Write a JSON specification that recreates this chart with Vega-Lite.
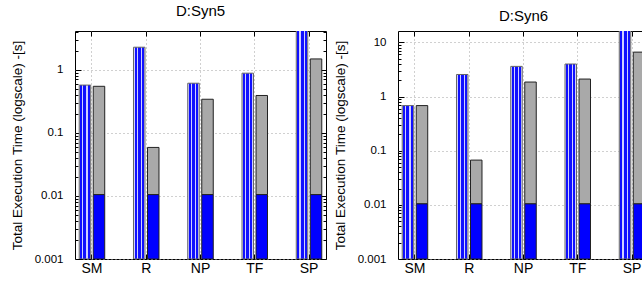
{
  "$schema": "https://vega.github.io/schema/vega-lite/v6.json",
  "padding": {"left": 9, "top": 3, "right": 0, "bottom": 0},
  "datasets": {
    "bars": [
      {"panel": "Syn5", "cat": "SM", "kind": "A", "seg": "hatch", "lo": 0.001, "hi": 0.57},
      {"panel": "Syn5", "cat": "SM", "kind": "B", "seg": "blue", "lo": 0.001, "hi": 0.0105},
      {"panel": "Syn5", "cat": "SM", "kind": "B", "seg": "gray", "lo": 0.0105, "hi": 0.545},
      {"panel": "Syn5", "cat": "R", "kind": "A", "seg": "hatch", "lo": 0.001, "hi": 2.27},
      {"panel": "Syn5", "cat": "R", "kind": "B", "seg": "blue", "lo": 0.001, "hi": 0.0105},
      {"panel": "Syn5", "cat": "R", "kind": "B", "seg": "gray", "lo": 0.0105, "hi": 0.0586},
      {"panel": "Syn5", "cat": "NP", "kind": "A", "seg": "hatch", "lo": 0.001, "hi": 0.61},
      {"panel": "Syn5", "cat": "NP", "kind": "B", "seg": "blue", "lo": 0.001, "hi": 0.0105},
      {"panel": "Syn5", "cat": "NP", "kind": "B", "seg": "gray", "lo": 0.0105, "hi": 0.34},
      {"panel": "Syn5", "cat": "TF", "kind": "A", "seg": "hatch", "lo": 0.001, "hi": 0.88},
      {"panel": "Syn5", "cat": "TF", "kind": "B", "seg": "blue", "lo": 0.001, "hi": 0.0105},
      {"panel": "Syn5", "cat": "TF", "kind": "B", "seg": "gray", "lo": 0.0105, "hi": 0.39},
      {"panel": "Syn5", "cat": "SP", "kind": "A", "seg": "hatch", "lo": 0.001, "hi": 5.5},
      {"panel": "Syn5", "cat": "SP", "kind": "B", "seg": "blue", "lo": 0.001, "hi": 0.0105},
      {"panel": "Syn5", "cat": "SP", "kind": "B", "seg": "gray", "lo": 0.0105, "hi": 1.48},
      {"panel": "Syn6", "cat": "SM", "kind": "A", "seg": "hatch", "lo": 0.001, "hi": 0.68},
      {"panel": "Syn6", "cat": "SM", "kind": "B", "seg": "blue", "lo": 0.001, "hi": 0.0105},
      {"panel": "Syn6", "cat": "SM", "kind": "B", "seg": "gray", "lo": 0.0105, "hi": 0.68},
      {"panel": "Syn6", "cat": "R", "kind": "A", "seg": "hatch", "lo": 0.001, "hi": 2.55},
      {"panel": "Syn6", "cat": "R", "kind": "B", "seg": "blue", "lo": 0.001, "hi": 0.0105},
      {"panel": "Syn6", "cat": "R", "kind": "B", "seg": "gray", "lo": 0.0105, "hi": 0.067},
      {"panel": "Syn6", "cat": "NP", "kind": "A", "seg": "hatch", "lo": 0.001, "hi": 3.6},
      {"panel": "Syn6", "cat": "NP", "kind": "B", "seg": "blue", "lo": 0.001, "hi": 0.0105},
      {"panel": "Syn6", "cat": "NP", "kind": "B", "seg": "gray", "lo": 0.0105, "hi": 1.85},
      {"panel": "Syn6", "cat": "TF", "kind": "A", "seg": "hatch", "lo": 0.001, "hi": 3.98},
      {"panel": "Syn6", "cat": "TF", "kind": "B", "seg": "blue", "lo": 0.001, "hi": 0.0105},
      {"panel": "Syn6", "cat": "TF", "kind": "B", "seg": "gray", "lo": 0.0105, "hi": 2.1},
      {"panel": "Syn6", "cat": "SP", "kind": "A", "seg": "hatch", "lo": 0.001, "hi": 22},
      {"panel": "Syn6", "cat": "SP", "kind": "B", "seg": "blue", "lo": 0.001, "hi": 0.0105},
      {"panel": "Syn6", "cat": "SP", "kind": "B", "seg": "gray", "lo": 0.0105, "hi": 6.6}
    ]
  },
  "config": {
    "font": "Liberation Sans",
    "view": {"stroke": "#000", "strokeWidth": 1},
    "title": {"font": "Liberation Sans", "fontSize": 15, "fontWeight": "normal", "color": "#000", "offset": 7},
    "axis": {
      "labelFont": "Liberation Sans", "labelFontSize": 11.5, "labelColor": "#000",
      "titleFont": "Liberation Sans", "titleFontSize": 13.5, "titleFontWeight": "normal", "titleColor": "#000",
      "domain": false, "tickColor": "#000", "tickWidth": 1, "gridColor": "#a0a0a0", "gridDash": [1, 3], "gridWidth": 1
    },
    "concat": {"spacing": 5}
  },
  "hconcat": [
    {
      "title": "D:Syn5",
      "width": 251, "height": 228,
      "data": {"name": "bars"},
      "transform": [{"filter": "datum.panel == 'Syn5'"}],
      "layer": [
        {
          "transform": [{"filter": "datum.kind == 'A'"}],
          "mark": {"type": "bar", "clip": true, "stroke": "#666", "strokeWidth": 1,
            "fill": {"gradient": "linear", "x1": 0, "x2": 1, "y1": 0, "y2": 0, "stops": [
              {"offset": 0, "color": "#d0d0ff"}, {"offset": 0.1, "color": "#d0d0ff"},
              {"offset": 0.1, "color": "#1010ff"}, {"offset": 0.27, "color": "#1010ff"},
              {"offset": 0.27, "color": "#d0d0ff"}, {"offset": 0.37, "color": "#d0d0ff"},
              {"offset": 0.37, "color": "#1010ff"}, {"offset": 0.63, "color": "#1010ff"},
              {"offset": 0.63, "color": "#d0d0ff"}, {"offset": 0.73, "color": "#d0d0ff"},
              {"offset": 0.73, "color": "#1010ff"}, {"offset": 0.9, "color": "#1010ff"},
              {"offset": 0.9, "color": "#d0d0ff"}, {"offset": 1, "color": "#d0d0ff"}
            ]}},
          "encoding": {
            "x": {"field": "cat", "type": "nominal", "sort": ["SM", "R", "NP", "TF", "SP"],
              "scale": {"paddingInner": 0.53, "paddingOuter": 0.078},
              "axis": {"orient": "bottom", "title": null, "labelAngle": 0, "bandPosition": 0.5, "tickSize": -5, "labelPadding": 7, "grid": true, "labelFontSize": 14}},
            "xOffset": {"field": "kind", "type": "nominal", "sort": ["A", "B"], "scale": {"paddingInner": 0.18, "paddingOuter": 0}},
            "y": {"field": "hi", "type": "quantitative",
              "scale": {"type": "log", "domain": [0.001, 4.1], "nice": false},
              "axis": {"orient": "left", "title": "Total Execution Time (logscale) -[s]", "titlePadding": 10,
                "values": [0.001, 0.002, 0.003, 0.004, 0.005, 0.006, 0.007, 0.008, 0.009, 0.01, 0.02, 0.03, 0.04, 0.05, 0.06, 0.07, 0.08, 0.09, 0.1, 0.2, 0.3, 0.4, 0.5, 0.6, 0.7, 0.8, 0.9, 1, 2, 3, 4],
                "format": "~g", "labelOverlap": false,
                "labelExpr": "indexof([0.001, 0.01, 0.1, 1, 10], datum.value) >= 0 ? datum.label : ''",
                "tickSize": {"condition": {"test": "indexof([0.001, 0.01, 0.1, 1, 10], datum.value) >= 0", "value": -6}, "value": -3},
                "gridOpacity": {"condition": {"test": "indexof([0.001, 0.01, 0.1, 1, 10], datum.value) >= 0", "value": 1}, "value": 0},
                "grid": true, "labelPadding": 18}},
            "y2": {"field": "lo"}
          }
        },
        {
          "transform": [{"filter": "datum.kind == 'B'"}],
          "mark": {"type": "bar", "clip": true, "stroke": "#222", "strokeWidth": 1},
          "encoding": {
            "x": {"field": "cat", "type": "nominal", "sort": ["SM", "R", "NP", "TF", "SP"],
              "axis": {"orient": "top", "title": null, "labels": false, "bandPosition": 0.5, "tickSize": -5, "grid": false}},
            "xOffset": {"field": "kind", "type": "nominal", "sort": ["A", "B"]},
            "y": {"field": "hi", "type": "quantitative",
              "axis": {"orient": "right", "title": null, "labels": false, "grid": false,
                "values": [0.001, 0.002, 0.003, 0.004, 0.005, 0.006, 0.007, 0.008, 0.009, 0.01, 0.02, 0.03, 0.04, 0.05, 0.06, 0.07, 0.08, 0.09, 0.1, 0.2, 0.3, 0.4, 0.5, 0.6, 0.7, 0.8, 0.9, 1, 2, 3, 4],
                "tickSize": {"condition": {"test": "indexof([0.001, 0.01, 0.1, 1, 10], datum.value) >= 0", "value": -6}, "value": -3}}},
            "y2": {"field": "lo"},
            "fill": {"field": "seg", "type": "nominal", "scale": {"domain": ["blue", "gray"], "range": ["#0000ff", "#a9a9a9"]}, "legend": null}
          }
        }
      ],
      "resolve": {"axis": {"x": "independent", "y": "independent"}}
    },
    {
      "title": "D:Syn6",
      "width": 251, "height": 228,
      "data": {"name": "bars"},
      "transform": [{"filter": "datum.panel == 'Syn6'"}],
      "layer": [
        {
          "transform": [{"filter": "datum.kind == 'A'"}],
          "mark": {"type": "bar", "clip": true, "stroke": "#666", "strokeWidth": 1,
            "fill": {"gradient": "linear", "x1": 0, "x2": 1, "y1": 0, "y2": 0, "stops": [
              {"offset": 0, "color": "#d0d0ff"}, {"offset": 0.1, "color": "#d0d0ff"},
              {"offset": 0.1, "color": "#1010ff"}, {"offset": 0.27, "color": "#1010ff"},
              {"offset": 0.27, "color": "#d0d0ff"}, {"offset": 0.37, "color": "#d0d0ff"},
              {"offset": 0.37, "color": "#1010ff"}, {"offset": 0.63, "color": "#1010ff"},
              {"offset": 0.63, "color": "#d0d0ff"}, {"offset": 0.73, "color": "#d0d0ff"},
              {"offset": 0.73, "color": "#1010ff"}, {"offset": 0.9, "color": "#1010ff"},
              {"offset": 0.9, "color": "#d0d0ff"}, {"offset": 1, "color": "#d0d0ff"}
            ]}},
          "encoding": {
            "x": {"field": "cat", "type": "nominal", "sort": ["SM", "R", "NP", "TF", "SP"],
              "scale": {"paddingInner": 0.53, "paddingOuter": 0.078},
              "axis": {"orient": "bottom", "title": null, "labelAngle": 0, "bandPosition": 0.5, "tickSize": -5, "labelPadding": 7, "grid": true, "labelFontSize": 14}},
            "xOffset": {"field": "kind", "type": "nominal", "sort": ["A", "B"], "scale": {"paddingInner": 0.18, "paddingOuter": 0}},
            "y": {"field": "hi", "type": "quantitative",
              "scale": {"type": "log", "domain": [0.001, 16.2], "nice": false},
              "axis": {"orient": "left", "title": "Total Execution Time (logscale) -[s]", "titlePadding": 10,
                "values": [0.001, 0.002, 0.003, 0.004, 0.005, 0.006, 0.007, 0.008, 0.009, 0.01, 0.02, 0.03, 0.04, 0.05, 0.06, 0.07, 0.08, 0.09, 0.1, 0.2, 0.3, 0.4, 0.5, 0.6, 0.7, 0.8, 0.9, 1, 2, 3, 4, 5, 6, 7, 8, 9, 10],
                "format": "~g", "labelOverlap": false,
                "labelExpr": "indexof([0.001, 0.01, 0.1, 1, 10], datum.value) >= 0 ? datum.label : ''",
                "tickSize": {"condition": {"test": "indexof([0.001, 0.01, 0.1, 1, 10], datum.value) >= 0", "value": -6}, "value": -3},
                "gridOpacity": {"condition": {"test": "indexof([0.001, 0.01, 0.1, 1, 10], datum.value) >= 0", "value": 1}, "value": 0},
                "grid": true, "labelPadding": 18}},
            "y2": {"field": "lo"}
          }
        },
        {
          "transform": [{"filter": "datum.kind == 'B'"}],
          "mark": {"type": "bar", "clip": true, "stroke": "#222", "strokeWidth": 1},
          "encoding": {
            "x": {"field": "cat", "type": "nominal", "sort": ["SM", "R", "NP", "TF", "SP"],
              "axis": {"orient": "top", "title": null, "labels": false, "bandPosition": 0.5, "tickSize": -5, "grid": false}},
            "xOffset": {"field": "kind", "type": "nominal", "sort": ["A", "B"]},
            "y": {"field": "hi", "type": "quantitative",
              "axis": {"orient": "right", "title": null, "labels": false, "grid": false,
                "values": [0.001, 0.002, 0.003, 0.004, 0.005, 0.006, 0.007, 0.008, 0.009, 0.01, 0.02, 0.03, 0.04, 0.05, 0.06, 0.07, 0.08, 0.09, 0.1, 0.2, 0.3, 0.4, 0.5, 0.6, 0.7, 0.8, 0.9, 1, 2, 3, 4, 5, 6, 7, 8, 9, 10],
                "tickSize": {"condition": {"test": "indexof([0.001, 0.01, 0.1, 1, 10], datum.value) >= 0", "value": -6}, "value": -3}}},
            "y2": {"field": "lo"},
            "fill": {"field": "seg", "type": "nominal", "scale": {"domain": ["blue", "gray"], "range": ["#0000ff", "#a9a9a9"]}, "legend": null}
          }
        }
      ],
      "resolve": {"axis": {"x": "independent", "y": "independent"}}
    }
  ]
}
